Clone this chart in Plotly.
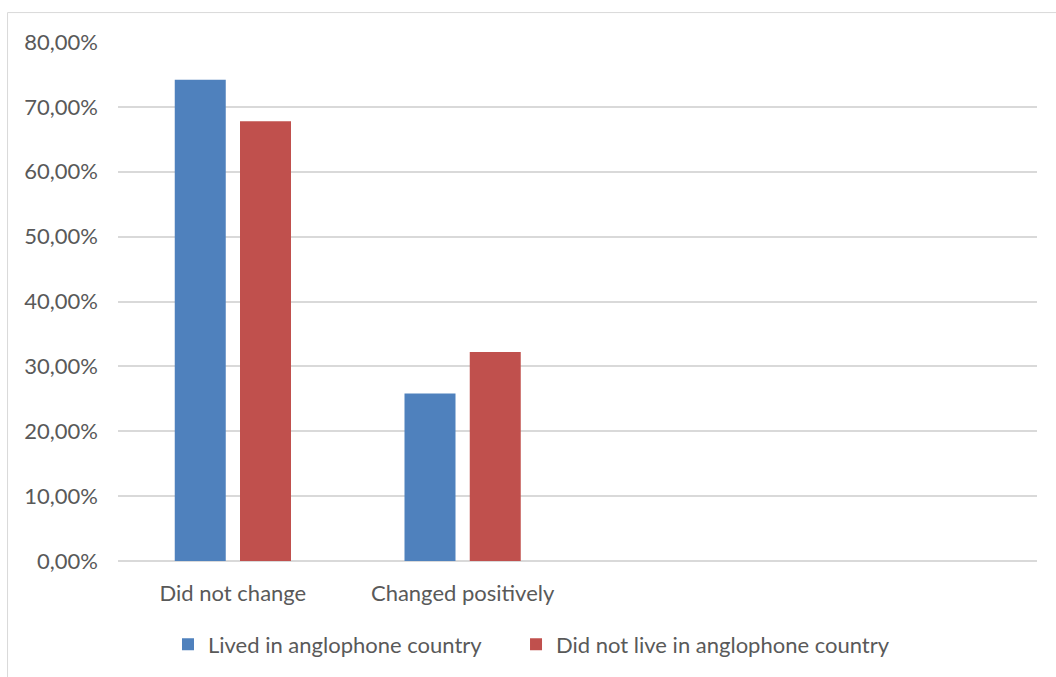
import plotly.graph_objects as go

categories = ["Did not change", "Changed positively"]
lived_anglophone = [0.7418, 0.2582]
not_lived_anglophone = [0.6777, 0.3223]
series_names = ["Lived in anglophone country", "Did not live in anglophone country"]
y_ticks = [0, 0.1, 0.2, 0.3, 0.4, 0.5, 0.6, 0.7, 0.8]

FONT = "Lato"
SIZE = 22
TEXT = "#595959"
GRID = "#d9d9d9"

fig = go.Figure()
fig.add_trace(go.Bar(
    x=categories, y=lived_anglophone, name=series_names[0],
    marker=dict(color="#4f81bd", line=dict(width=0)),
    width=0.222, offset=-0.253, legend="legend",
))
fig.add_trace(go.Bar(
    x=categories, y=not_lived_anglophone, name=series_names[1],
    marker=dict(color="#c0504d", line=dict(width=0)),
    width=0.222, offset=0.031, legend="legend2",
))

# outer chart frame (only top and left edges fall inside the page)
fig.add_shape(type="rect", xref="paper", yref="paper",
              x0=-0.1202, x1=1.2, y0=-0.6, y1=1.0567,
              line=dict(color=GRID, width=1), fillcolor="rgba(0,0,0,0)", layer="below")

legend_common = dict(orientation="h", xanchor="left", y=-0.1606, yanchor="middle",
                     font=dict(family=FONT, size=SIZE, color=TEXT), itemwidth=30,
                     bgcolor="rgba(0,0,0,0)")

fig.update_layout(
    width=1056, height=677,
    margin=dict(l=118, r=19, t=41.5, b=115.5),
    paper_bgcolor="white", plot_bgcolor="white",
    separators=",.",
    font=dict(family=FONT, size=SIZE, color=TEXT),
    barmode="group",
    showlegend=True,
    legend=dict(x=0.0544, **legend_common),
    legend2=dict(x=0.4331, **legend_common),
    xaxis=dict(type="category", categoryorder="array", categoryarray=categories,
               range=[-0.5, 3.5], showgrid=False, zeroline=False,
               showline=False, ticks="", ticklabelstandoff=17,
               tickfont=dict(family=FONT, size=SIZE, color=TEXT)),
    yaxis=dict(range=[0, 0.8], tickvals=y_ticks, tickformat=".2%",
               showgrid=True, gridcolor=GRID, gridwidth=1.5,
               zeroline=True, zerolinecolor=GRID, zerolinewidth=1.5,
               showline=False, ticks="", ticklabelstandoff=19,
               tickfont=dict(family=FONT, size=SIZE, color=TEXT)),
)

fig.write_html("out.html")
